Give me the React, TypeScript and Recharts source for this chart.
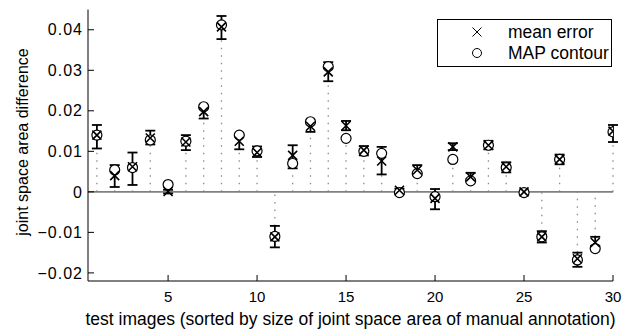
import { ScatterChart, Scatter, XAxis, YAxis, ErrorBar, ReferenceLine, Legend } from 'recharts';

// test image index (sorted by size of joint space area of manual annotation)
const images = [
  1, 2, 3, 4, 5, 6, 7, 8, 9, 10, 11, 12, 13, 14, 15,
  16, 17, 18, 19, 20, 21, 22, 23, 24, 25, 26, 27, 28, 29, 30,
];

// mean error with its lower / upper error bar ends
const meanError = [
  0.014, 0.004, 0.0062, 0.0133, 0.0001, 0.0123, 0.0198, 0.0407, 0.0125, 0.0097,
  -0.0111, 0.009, 0.0162, 0.0296, 0.0163, 0.0103, 0.0076, 0.0004, 0.0054, -0.0016,
  0.0111, 0.0037, 0.0115, 0.0062, 0.0, -0.0111, 0.008, -0.0165, -0.0125, 0.015,
];
const errLow = [
  0.0107, 0.0012, 0.0017, 0.0117, -0.0004, 0.0103, 0.0181, 0.0377, 0.0105, 0.0086,
  -0.0137, 0.0058, 0.0148, 0.0273, 0.0152, 0.009, 0.0043, -0.0001, 0.0041, -0.0043,
  0.0103, 0.0031, 0.0105, 0.0048, -0.0004, -0.0125, 0.0068, -0.0185, -0.0133, 0.0123,
];
const errHigh = [
  0.0165, 0.0066, 0.0097, 0.0151, 0.0005, 0.014, 0.0206, 0.0434, 0.014, 0.0112,
  -0.0084, 0.0115, 0.0169, 0.032, 0.0175, 0.0113, 0.0111, 0.0008, 0.0066, 0.0007,
  0.012, 0.0047, 0.0126, 0.0073, 0.0004, -0.0097, 0.0092, -0.015, -0.0111, 0.0165,
];

// MAP contour
const mapContour = [
  0.014, 0.0054, 0.006, 0.0128, 0.0018, 0.0125, 0.021, 0.0412, 0.014, 0.0101,
  -0.011, 0.007, 0.0173, 0.0309, 0.0132, 0.01, 0.0095, -0.0002, 0.0045, -0.0012,
  0.008, 0.0027, 0.0115, 0.006, -0.0002, -0.0111, 0.008, -0.0168, -0.014, 0.0148,
];

const xTicks = [5, 10, 15, 20, 25, 30];
const yTicks = [-0.02, -0.01, 0, 0.01, 0.02, 0.03, 0.04];

const meanData = images.map((x, i) => ({
  x,
  y: meanError[i],
  err: [meanError[i] - errLow[i], errHigh[i] - meanError[i]],
}));

const mapData = images.map((x, i) => ({ x, y: mapContour[i] }));

// dotted stems from zero up to the marker nearest the zero line
const stemData = images.map((x, i) => {
  const end = meanError[i] >= 0 ? Math.min(errLow[i], mapContour[i]) : Math.max(errHigh[i], mapContour[i]);
  return { x, y: 0, stem: end >= 0 ? [0, end] : [-end, 0] };
});

const font = 'Liberation Sans, Arial, Helvetica, sans-serif';

const fmtY = (v: number) => (v < 0 ? `\u2212${Math.abs(v)}` : `${v}`);

const XMark = (props: any) => {
  const { cx, cy } = props;
  const s = 4.5;
  return (
    <path
      d={`M${cx - s},${cy - s}L${cx + s},${cy + s}M${cx - s},${cy + s}L${cx + s},${cy - s}`}
      stroke="#000"
      strokeWidth={1.6}
      fill="none"
    />
  );
};

const OMark = (props: any) => (
  <circle cx={props.cx} cy={props.cy} r={5} fill="#fff" stroke="#000" strokeWidth={1.2} />
);

const Nothing = () => <g />;

const LegendBox = () => (
  <svg width={175} height={48} style={{ display: 'block' }}>
    <rect x={0.5} y={0.5} width={174} height={47} fill="#fff" stroke="#000" />
    <path d="M35.5,8.5L44.5,17.5M35.5,17.5L44.5,8.5" stroke="#000" strokeWidth={1} />
    <circle cx={40} cy={34} r={4.5} fill="none" stroke="#000" strokeWidth={1} />
    <text x={71} y={13} dominantBaseline="central" fontSize={17.5} fontFamily={font}>mean error</text>
    <text x={71} y={34} dominantBaseline="central" fontSize={17.5} fontFamily={font}>MAP contour</text>
  </svg>
);

const YLabel = () => (
  <text
    x={22}
    y={142}
    transform="rotate(-90, 22, 142)"
    textAnchor="middle"
    dominantBaseline="central"
    fontSize={16}
    fontFamily={font}
    fill="#000"
  >
    joint space area difference
  </text>
);

export default function App() {
  return (
    <div style={{ position: 'absolute', left: 0, top: 0, background: '#fff' }}>
      <ScatterChart
        width={625}
        height={329}
        margin={{ top: 9.5, right: 12, bottom: 0, left: 0 }}
        style={{ fontFamily: font }}
      >
        <XAxis
          dataKey="x"
          type="number"
          domain={[0.5, 30]}
          ticks={xTicks}
          allowDataOverflow
          height={48}
          tickSize={-6}
          tickMargin={16}
          tick={{ fill: '#000', fontSize: 15 }}
          axisLine={{ stroke: '#000' }}
          tickLine={{ stroke: '#000' }}
          label={{
            value: 'test images (sorted by size of joint space area of manual annotation)',
            position: 'insideBottom',
            offset: 4,
            fill: '#000',
            fontSize: 17.5,
          }}
        />
        <YAxis
          dataKey="y"
          type="number"
          domain={[-0.022, 0.045]}
          ticks={yTicks}
          allowDataOverflow
          width={88}
          tickSize={-6}
          tickMargin={11}
          tickFormatter={fmtY}
          tick={{ fill: '#000', fontSize: 16, letterSpacing: 1 }}
          axisLine={{ stroke: '#000' }}
          tickLine={{ stroke: '#000' }}
          label={{ content: () => <YLabel /> }}
        />
        <XAxis
          xAxisId="top"
          orientation="top"
          dataKey="x"
          type="number"
          domain={[0.5, 30]}
          ticks={xTicks}
          allowDataOverflow
          height={0}
          tickSize={-6}
          tick={false}
          axisLine={{ stroke: '#000' }}
          tickLine={{ stroke: '#000' }}
        />
        <YAxis
          yAxisId="right"
          orientation="right"
          dataKey="y"
          type="number"
          domain={[-0.022, 0.045]}
          ticks={yTicks}
          allowDataOverflow
          width={0}
          tickSize={-6}
          tick={false}
          axisLine={{ stroke: '#000' }}
          tickLine={{ stroke: '#000' }}
        />
        <Scatter
          xAxisId="top"
          yAxisId="right"
          data={mapData}
          shape={Nothing}
          isAnimationActive={false}
          legendType="none"
        />
        <Scatter data={stemData} shape={Nothing} isAnimationActive={false} legendType="none">
          <ErrorBar
            dataKey="stem"
            direction="y"
            width={0}
            stroke="#8c8c8c"
            strokeWidth={1.3}
            strokeDasharray="1.5 6"
            isAnimationActive={false}
          />
        </Scatter>
        <ReferenceLine y={0} stroke="#808080" strokeWidth={1.6} />
        <Scatter name="MAP contour" data={mapData} shape={OMark} isAnimationActive={false} />
        <Scatter name="mean error" data={meanData} shape={XMark} isAnimationActive={false}>
          <ErrorBar
            dataKey="err"
            direction="y"
            width={5}
            stroke="#000"
            strokeWidth={1.8}
            isAnimationActive={false}
          />
        </Scatter>
        <Legend
          layout="horizontal"
          verticalAlign="middle"
          align="center"
          wrapperStyle={{ position: 'absolute', left: 437, top: 19, width: 175, height: 48 }}
          content={() => <LegendBox />}
        />
      </ScatterChart>
    </div>
  );
}
